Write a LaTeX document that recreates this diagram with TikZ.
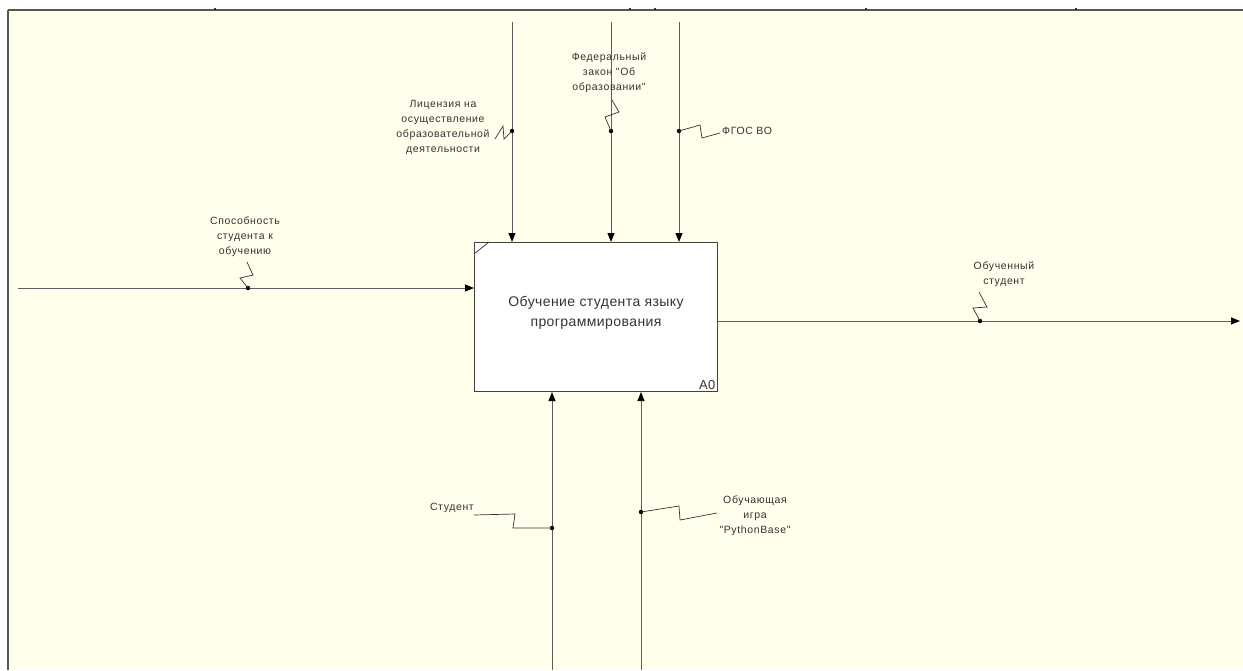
\documentclass[tikz,border=0pt]{standalone}
\usepackage{fontspec}
\setmainfont{Liberation Sans}
\newfontfamily\lblfont[LetterSpace=6]{Liberation Sans}
\newfontfamily\boxfont[LetterSpace=3]{Liberation Sans}
\usetikzlibrary{arrows.meta}
\definecolor{canvas}{HTML}{FFFFEB}
\definecolor{frame}{HTML}{56564E}
\definecolor{wire}{HTML}{5E5E5E}
\definecolor{ink}{HTML}{333333}
\tikzset{
  arr/.style={draw=wire, line width=1pt, -{Triangle[length=9pt,width=7pt,color=black]}},
  squig/.style={draw=ink, line width=0.7pt},
  lbl/.style={font=\lblfont\fontsize{10.5}{15}\selectfont, text=ink, align=center, inner sep=0pt},
  dot/.style={fill=black}
}
\begin{document}
\begin{tikzpicture}[x=1pt, y=-1pt]
  \useasboundingbox (0,0) rectangle (1243,670);
  % Canvas
  \fill[white] (0,0) rectangle (1243,670);
  \fill[canvas] (8,10) rectangle (1243,670);
  \draw[frame, line width=2pt] (8,10) -- (1243,10);
  \draw[frame, line width=2.5pt] (8,10) -- (8,670);
  \foreach \tx in {215,630,655,866,1076}
    \fill[black!80] (\tx-1,8) rectangle (\tx+1,10);
  % Activity box
  \node[draw=black!75, line width=1pt, fill=white, anchor=north west,
        minimum width=243pt, minimum height=149pt] (a0) at (474,242) {};
  \node[align=center, text=ink, font=\boxfont\fontsize{14}{20}\selectfont]
        (a0txt) at ([yshift=4pt]a0.center) {Обучение студента языку\\программирования};
  \draw[black!75, line width=0.8pt] ([yshift=-12pt]a0.north west) -- ([xshift=15pt]a0.north west);
  \node[anchor=south east, text=ink, inner sep=2.5pt,
        font=\boxfont\fontsize{13}{14}\selectfont] (a0num) at (a0.south east) {A0};
  % Ends of the arrows
  \coordinate (inS) at (18,288);
  \coordinate (outE) at (1240,321);
  \coordinate (ctlA) at (512,22);
  \coordinate (ctlB) at (611,22);
  \coordinate (ctlC) at (679,22);
  \coordinate (mecA) at (552,670);
  \coordinate (mecB) at (641,670);
  % Input and output
  \draw[arr] (inS) -- (inS -| a0.west);
  \draw[arr] (outE -| a0.east) -- (outE);
  % Controls
  \foreach \c in {ctlA,ctlB,ctlC}
    \draw[arr] (\c) -- (\c |- a0.north);
  % Mechanisms
  \foreach \m in {mecA,mecB}
    \draw[arr] (\m) -- (\m |- a0.south);
  % Dots on the arrows
  \coordinate (dLic) at (512,131);
  \coordinate (dLaw) at (611,131);
  \coordinate (dFgos) at (679,131);
  \coordinate (dAbil) at (248,288);
  \coordinate (dDone) at (980,321);
  \coordinate (dStud) at (552,528);
  \coordinate (dGame) at (641,512);
  \foreach \d in {dLic,dLaw,dFgos,dAbil,dDone,dStud,dGame}
    \fill[dot] (\d) circle (2.2);
  % Labels
  \node[lbl] (lLic) at (443,127) {Лицензия на\\осуществление\\образовательной\\деятельности};
  \node[lbl] (lLaw) at (609,73) {Федеральный\\закон "Об\\образовании"};
  \node[lbl, anchor=west] (lFgos) at (722,131) {ФГОС ВО};
  \node[lbl] (lAbil) at (245,237) {Способность\\студента к\\обучению};
  \node[lbl] (lDone) at (1004,274) {Обученный\\студент};
  \node[lbl, anchor=east] (lStud) at (474,508) {Студент};
  \node[lbl] (lGame) at (755,516) {Обучающая\\игра\\"PythonBase"};
  % Squiggles from dots to labels
  \draw[squig] (dLic) -- ++(-8,8) -- ++(-1,-13) -- ++(-8,13);
  \draw[squig] (dLaw) -- ++(-6,-14) -- ++(14,-5) -- ++(-7,-12);
  \draw[squig] (dFgos) -- ++(21,-6) -- ++(2,13) -- ++(18,-5);
  \draw[squig] (dAbil) -- ++(-8,-10) -- ++(13,-3) -- ++(-6,-13);
  \draw[squig] (dDone) -- ++(-7,-13) -- ++(14,-1) -- ++(-8,-15);
  \draw[squig] (dStud) -- ++(-39,0) -- ++(2,-14) -- ++(-41,1);
  \draw[squig] (dGame) -- ++(38,-6) -- ++(1,14) -- ++(37,-7);
\end{tikzpicture}
\end{document}
